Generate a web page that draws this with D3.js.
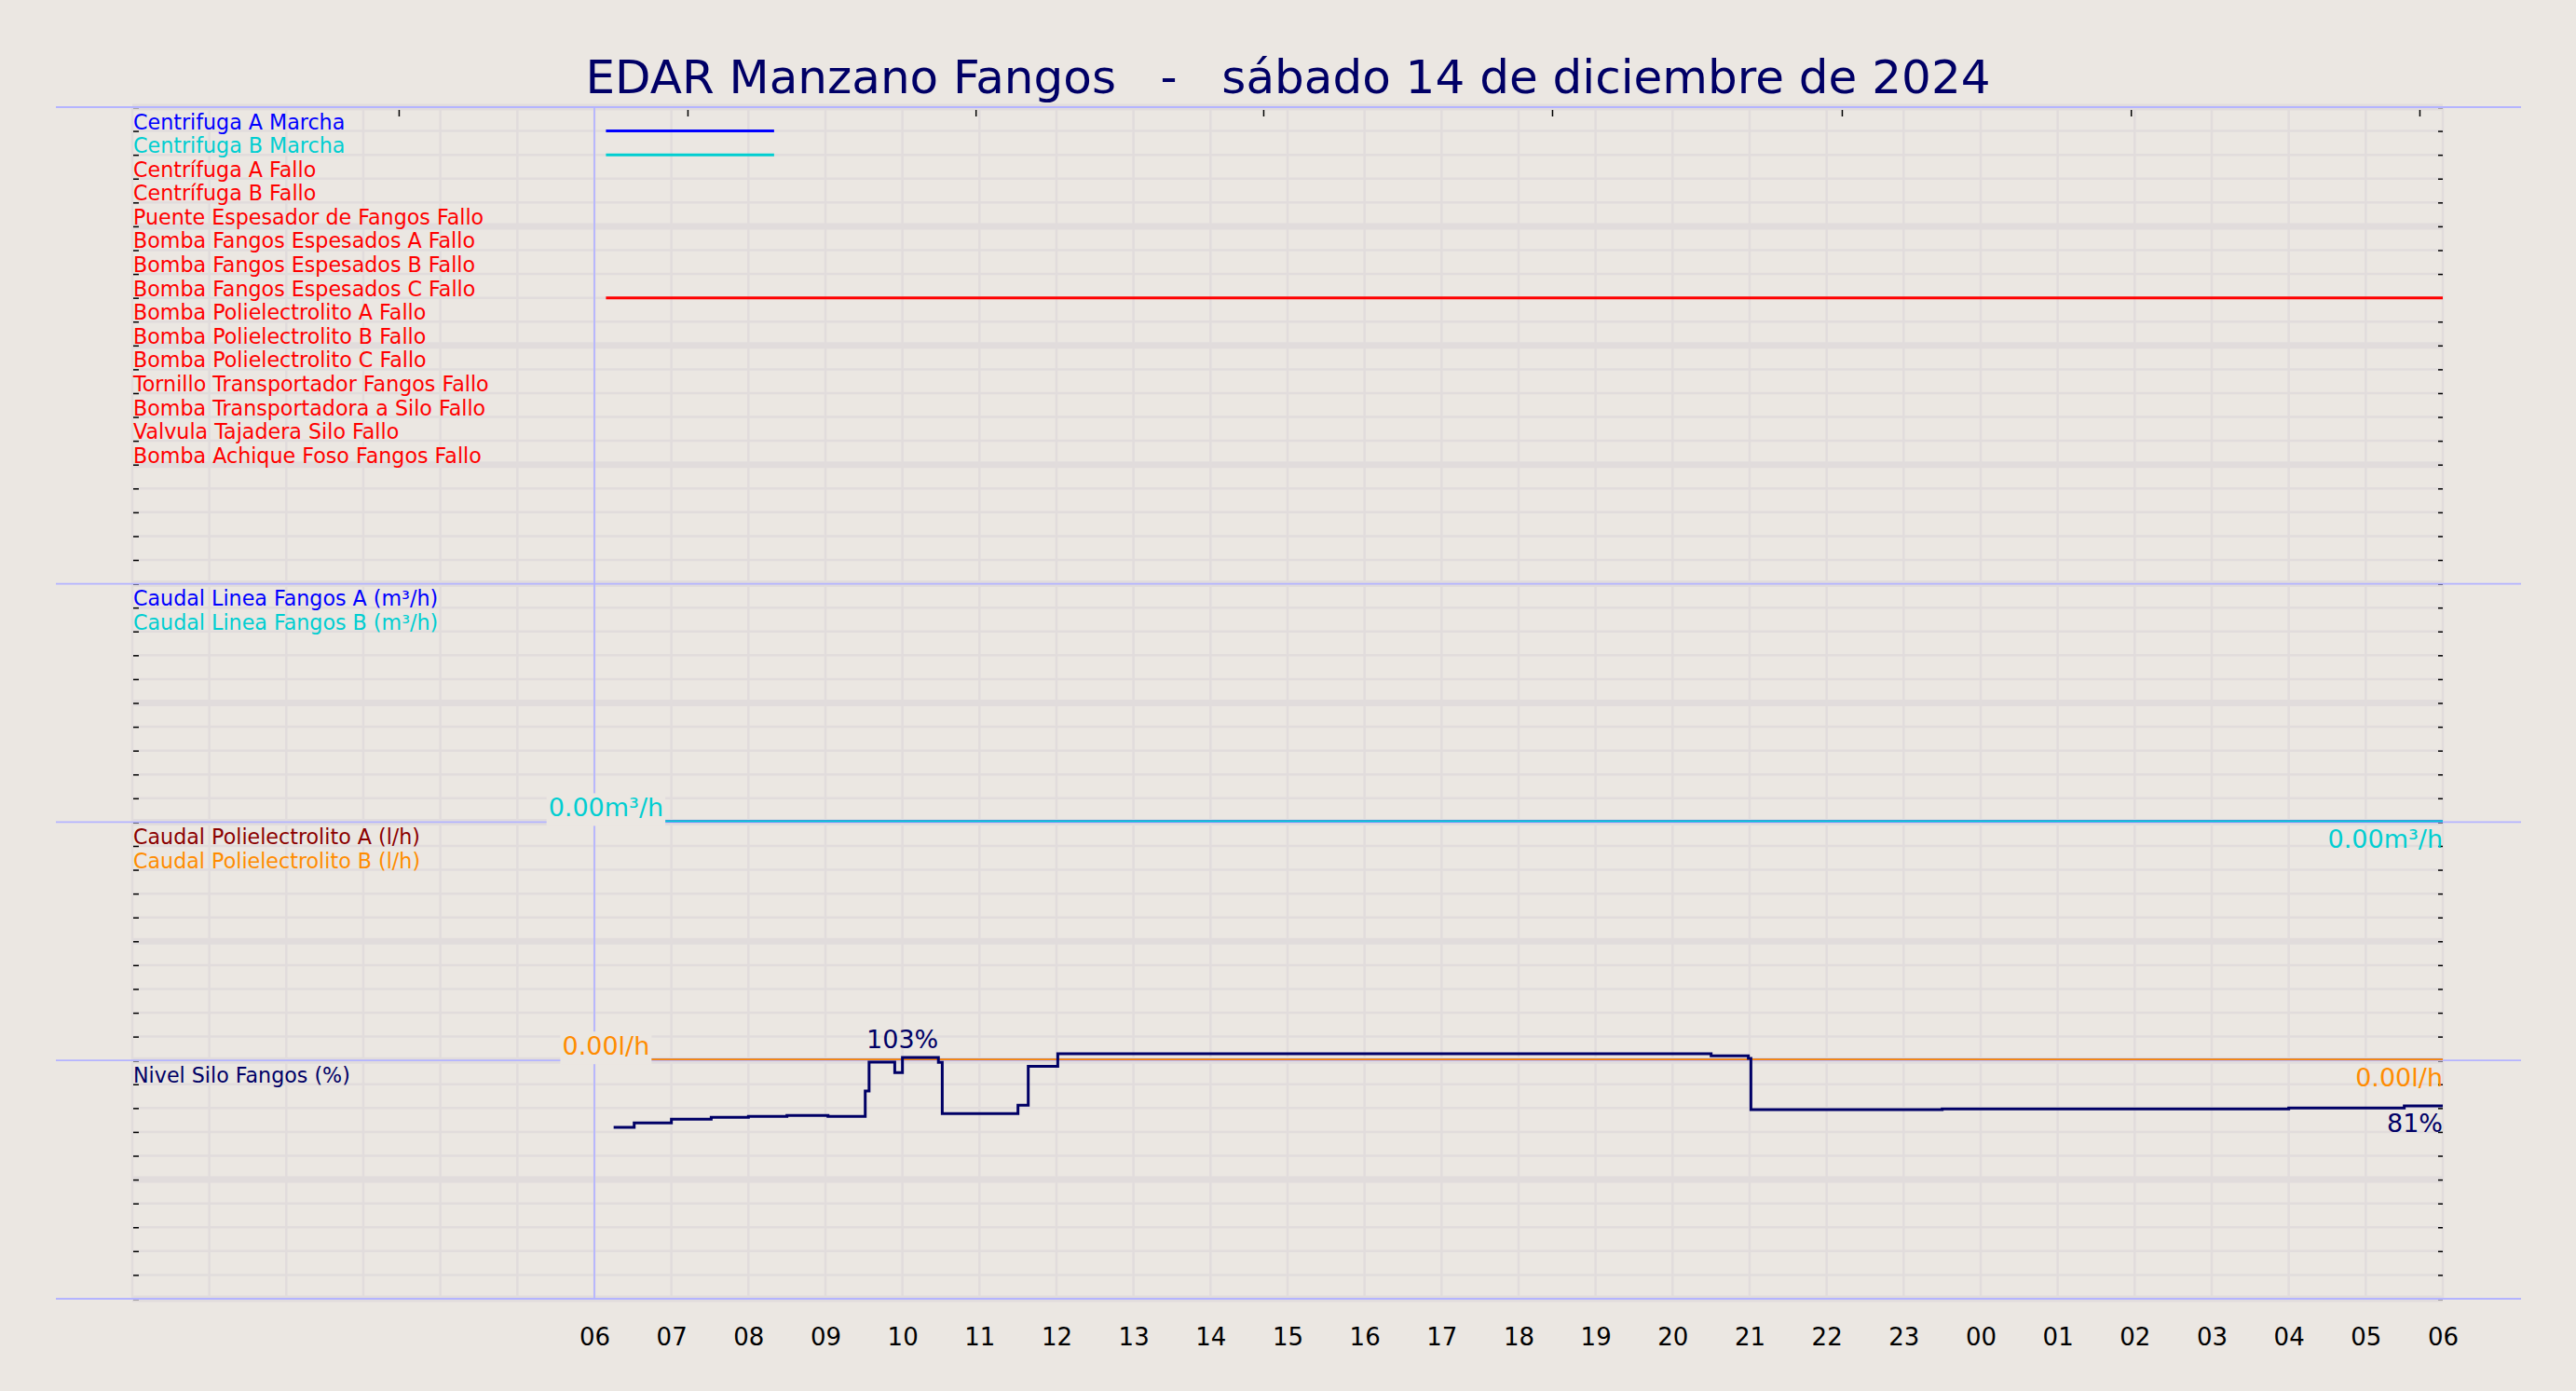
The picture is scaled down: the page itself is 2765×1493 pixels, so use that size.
<!DOCTYPE html>
<html><head><meta charset="utf-8">
<script src="https://cdn.jsdelivr.net/npm/d3@7"></script>
<style>
html,body{margin:0;padding:0;background:#ebe7e2;}
svg{display:block;}
text{font-family:"DejaVu Sans",sans-serif;}
</style>
</head><body>
<svg id="chart" width="2765" height="1493"></svg>
<script>
// ---------------- DATA ----------------
const chartTitle = "EDAR Manzano Fangos   -   sábado 14 de diciembre de 2024";
const xDomain = ["2024-12-14 00:00", "2024-12-15 06:00"];
const xLabelStart = "2024-12-14 06:00";
const dayMarker = "2024-12-14 06:00";

const signalNames = [
  "Centrifuga A Marcha", "Centrifuga B Marcha", "Centrífuga A Fallo", "Centrífuga B Fallo",
  "Puente Espesador de Fangos Fallo", "Bomba Fangos Espesados A Fallo", "Bomba Fangos Espesados B Fallo",
  "Bomba Fangos Espesados C Fallo", "Bomba Polielectrolito A Fallo", "Bomba Polielectrolito B Fallo",
  "Bomba Polielectrolito C Fallo", "Tornillo Transportador Fangos Fallo", "Bomba Transportadora a Silo Fallo",
  "Valvula Tajadera Silo Fallo", "Bomba Achique Foso Fangos Fallo"
];
const signalColors = ["#0000ff", "#00ced1", "#ff0000", "#ff0000", "#ff0000", "#ff0000", "#ff0000",
  "#ff0000", "#ff0000", "#ff0000", "#ff0000", "#ff0000", "#ff0000", "#ff0000", "#ff0000"];
// intervals where each signal is active (index into signalNames)
const signalOnIndex = [0, 1, 7];
const signalOnStart = ["2024-12-14 06:09", "2024-12-14 06:09", "2024-12-14 06:09"];
const signalOnEnd   = ["2024-12-14 08:20", "2024-12-14 08:20", "2024-12-15 06:00"];

const flowNames = ["Caudal Linea Fangos A (m³/h)", "Caudal Linea Fangos B (m³/h)"];
const flowColors = ["#0000ff", "#00ced1"];
const flowTimes = ["2024-12-14 06:09", "2024-12-15 06:00"];
const flowA = [0, 0];
const flowB = [0, 0];

const poliNames = ["Caudal Polielectrolito A (l/h)", "Caudal Polielectrolito B (l/h)"];
const poliColors = ["#8b0000", "#ff8c00"];
const poliTimes = ["2024-12-14 06:09", "2024-12-15 06:00"];
const poliA = [0, 0];
const poliB = [0, 0];

const siloName = "Nivel Silo Fangos (%)";
const siloColor = "#000066";
const siloTimes = ["2024-12-14 06:15","2024-12-14 06:31","2024-12-14 07:00","2024-12-14 07:31",
  "2024-12-14 08:00","2024-12-14 08:30","2024-12-14 09:02","2024-12-14 09:31","2024-12-14 09:34",
  "2024-12-14 09:54","2024-12-14 10:00","2024-12-14 10:28","2024-12-14 10:31","2024-12-14 11:30",
  "2024-12-14 11:38","2024-12-14 12:01","2024-12-14 20:30","2024-12-14 20:59","2024-12-14 21:01",
  "2024-12-14 23:30","2024-12-15 04:00","2024-12-15 05:30","2024-12-15 06:00"];
const siloValues = [71.9,73.8,75.4,76.1,76.5,76.9,76.5,87.2,99.3,94.9,101.3,99.2,77.7,81.2,97.5,
  102.8,101.9,100.9,79.4,79.7,80.0,80.9,80.9];
const siloMaxLabelTime = "2024-12-14 10:00";

const topTickFractions = [0.1153, 0.2403, 0.3650, 0.4895, 0.6145, 0.7399, 0.8650, 0.9899];

// ---------------- LAYOUT ----------------
const W = 2765, H = 1493;
const plotL = 142, plotR = 2622, plotT = 115, plotB = 1394;
const bg = "#ebe7e2", gridC = "#e1dcdc", sepC = "#b4b4ff";
const parse = d3.timeParse("%Y-%m-%d %H:%M");

const svg = d3.select("#chart");
svg.append("rect").attr("width", W).attr("height", H).attr("fill", bg);

const x = d3.scaleTime().domain(xDomain.map(parse)).range([plotL, plotR]);
const row = d3.scaleLinear().domain([0, 50]).range([plotT, plotB]);
const yFlow = d3.scaleLinear().domain([0, 10]).range([row(30), row(20)]);
const yPoli = d3.scaleLinear().domain([0, 10]).range([row(40), row(30)]);
const ySilo = d3.scaleLinear().domain([0, 100]).range([row(50), row(40)]);
const xTop = d3.scaleLinear().domain([0, 1]).range([plotL, plotR]);

// grid
const hours = d3.timeHour.range(parse(xDomain[0]), d3.timeMinute.offset(parse(xDomain[1]), 1));
const grid = svg.append("g");
grid.selectAll("line.v").data(hours).join("line")
  .attr("x1", d => x(d)).attr("x2", d => x(d)).attr("y1", plotT).attr("y2", plotB)
  .attr("stroke", gridC).attr("stroke-width", 2.5);
grid.selectAll("line.h").data(d3.range(0, 51)).join("line")
  .attr("x1", plotL).attr("x2", plotR).attr("y1", d => row(d)).attr("y2", d => row(d))
  .attr("stroke", gridC).attr("stroke-width", d => d % 5 === 0 ? 7 : 2.5);

// ticks (left, right, top)
const tickStyle = g => { g.select(".domain").remove(); g.selectAll("text").remove();
  g.selectAll("line").attr("stroke", "#000").attr("stroke-width", 1.5); };
svg.append("g").attr("transform", `translate(${plotL + 1},0)`)
  .call(d3.axisLeft(row).tickValues(d3.range(0, 51)).tickSize(-6)).call(tickStyle);
svg.append("g").attr("transform", `translate(${plotR},0)`)
  .call(d3.axisRight(row).tickValues(d3.range(0, 51)).tickSize(-5)).call(tickStyle);
svg.append("g").attr("transform", `translate(0,${plotT + 3})`)
  .call(d3.axisBottom(xTop).tickValues(topTickFractions).tickSize(7)).call(tickStyle);

// separators
svg.append("g").selectAll("line").data([0, 20, 30, 40, 50]).join("line")
  .attr("x1", 60).attr("x2", 2706).attr("y1", d => row(d)).attr("y2", d => row(d))
  .attr("stroke", sepC).attr("stroke-width", 1.8);
svg.append("line").attr("x1", x(parse(dayMarker))).attr("x2", x(parse(dayMarker)))
  .attr("y1", plotT).attr("y2", plotB).attr("stroke", sepC).attr("stroke-width", 1.8);

// digital signals
const sigG = svg.append("g");
sigG.selectAll("line").data(signalOnIndex).join("line")
  .attr("x1", (d, i) => x(parse(signalOnStart[i]))).attr("x2", (d, i) => x(parse(signalOnEnd[i])))
  .attr("y1", d => row(d + 1)).attr("y2", d => row(d + 1))
  .attr("stroke", d => signalColors[d]).attr("stroke-width", 3);

// analog lines
const stepLine = (times, yS) => d3.line().curve(d3.curveStepAfter)
  .x((d, i) => x(parse(times[i]))).y(d => yS(d));
const lines = svg.append("g");
[[flowA, flowTimes, yFlow, flowColors[0], 1.6, -1], [flowB, flowTimes, yFlow, flowColors[1], 1.6, -1],
 [poliA, poliTimes, yPoli, poliColors[0], 1.6, -1], [poliB, poliTimes, yPoli, poliColors[1], 1.6, -1],
 [siloValues, siloTimes, ySilo, siloColor, 3, 0]].forEach(([vals, times, yS, col, w, dy]) => {
  lines.append("path").attr("d", stepLine(times, yS)(vals)).attr("fill", "none")
    .attr("stroke", col).attr("stroke-width", w).attr("transform", `translate(0,${dy})`);
});

// labels at left
const labG = svg.append("g").attr("font-size", 22.2);
const addLabels = (names, colors, startRow) => {
  labG.selectAll(null).data(names).join("text")
    .attr("x", plotL + 1).attr("y", (d, i) => row(startRow + i) - 2)
    .attr("fill", (d, i) => colors[i]).text(d => d);
};
addLabels(signalNames, signalColors, 1);
addLabels(flowNames, flowColors, 21);
addLabels(poliNames, poliColors, 31);
addLabels([siloName], [siloColor], 41);

// value labels
const valG = svg.append("g").attr("font-size", 27);
const f2 = d3.format(".2f"), f0 = d3.format(".0f");
function boxedLabel(xp, yp, txt, col) {
  const g = valG.append("g");
  const t = g.append("text").attr("x", xp).attr("y", yp - 6).attr("text-anchor", "middle")
    .attr("fill", col).text(txt);
  const b = t.node().getBBox();
  g.insert("rect", "text").attr("x", b.x - 2).attr("y", b.y).attr("width", b.width + 4)
    .attr("height", b.height + 4).attr("fill", bg);
}
function endLabel(yp, txt, col) {
  valG.append("text").attr("x", plotR).attr("y", yp + 28).attr("text-anchor", "end")
    .attr("fill", col).text(txt);
}
boxedLabel(x(parse(flowTimes[0])), yFlow(flowB[0]), f2(flowB[0]) + "m³/h", flowColors[1]);
endLabel(yFlow(flowB[flowB.length - 1]), f2(flowB[flowB.length - 1]) + "m³/h", flowColors[1]);
boxedLabel(x(parse(poliTimes[0])), yPoli(poliB[0]), f2(poliB[0]) + "l/h", poliColors[1]);
endLabel(yPoli(poliB[poliB.length - 1]), f2(poliB[poliB.length - 1]) + "l/h", poliColors[1]);
const siloMax = d3.max(siloValues);
valG.append("text").attr("x", x(parse(siloMaxLabelTime))).attr("y", ySilo(siloMax) - 6)
  .attr("text-anchor", "middle").attr("fill", siloColor).text(f0(siloMax) + "%");
endLabel(ySilo(siloValues[siloValues.length - 1]), f0(siloValues[siloValues.length - 1]) + "%", siloColor);

// x tick labels
const labelHours = d3.timeHour.range(parse(xLabelStart), d3.timeMinute.offset(parse(xDomain[1]), 1));
svg.append("g").attr("transform", `translate(0,${plotB})`)
  .call(d3.axisBottom(x).tickValues(labelHours).tickFormat(d3.timeFormat("%H")).tickSize(0).tickPadding(32))
  .call(g => { g.select(".domain").remove();
    g.selectAll("text").attr("font-size", 26).attr("fill", "#000").attr("font-family", "DejaVu Sans"); });

// title
svg.append("text").attr("x", W / 2).attr("y", 100).attr("text-anchor", "middle")
  .attr("font-size", 50).attr("fill", "#000066").style("white-space", "pre").text(chartTitle);
</script>
</body></html>
